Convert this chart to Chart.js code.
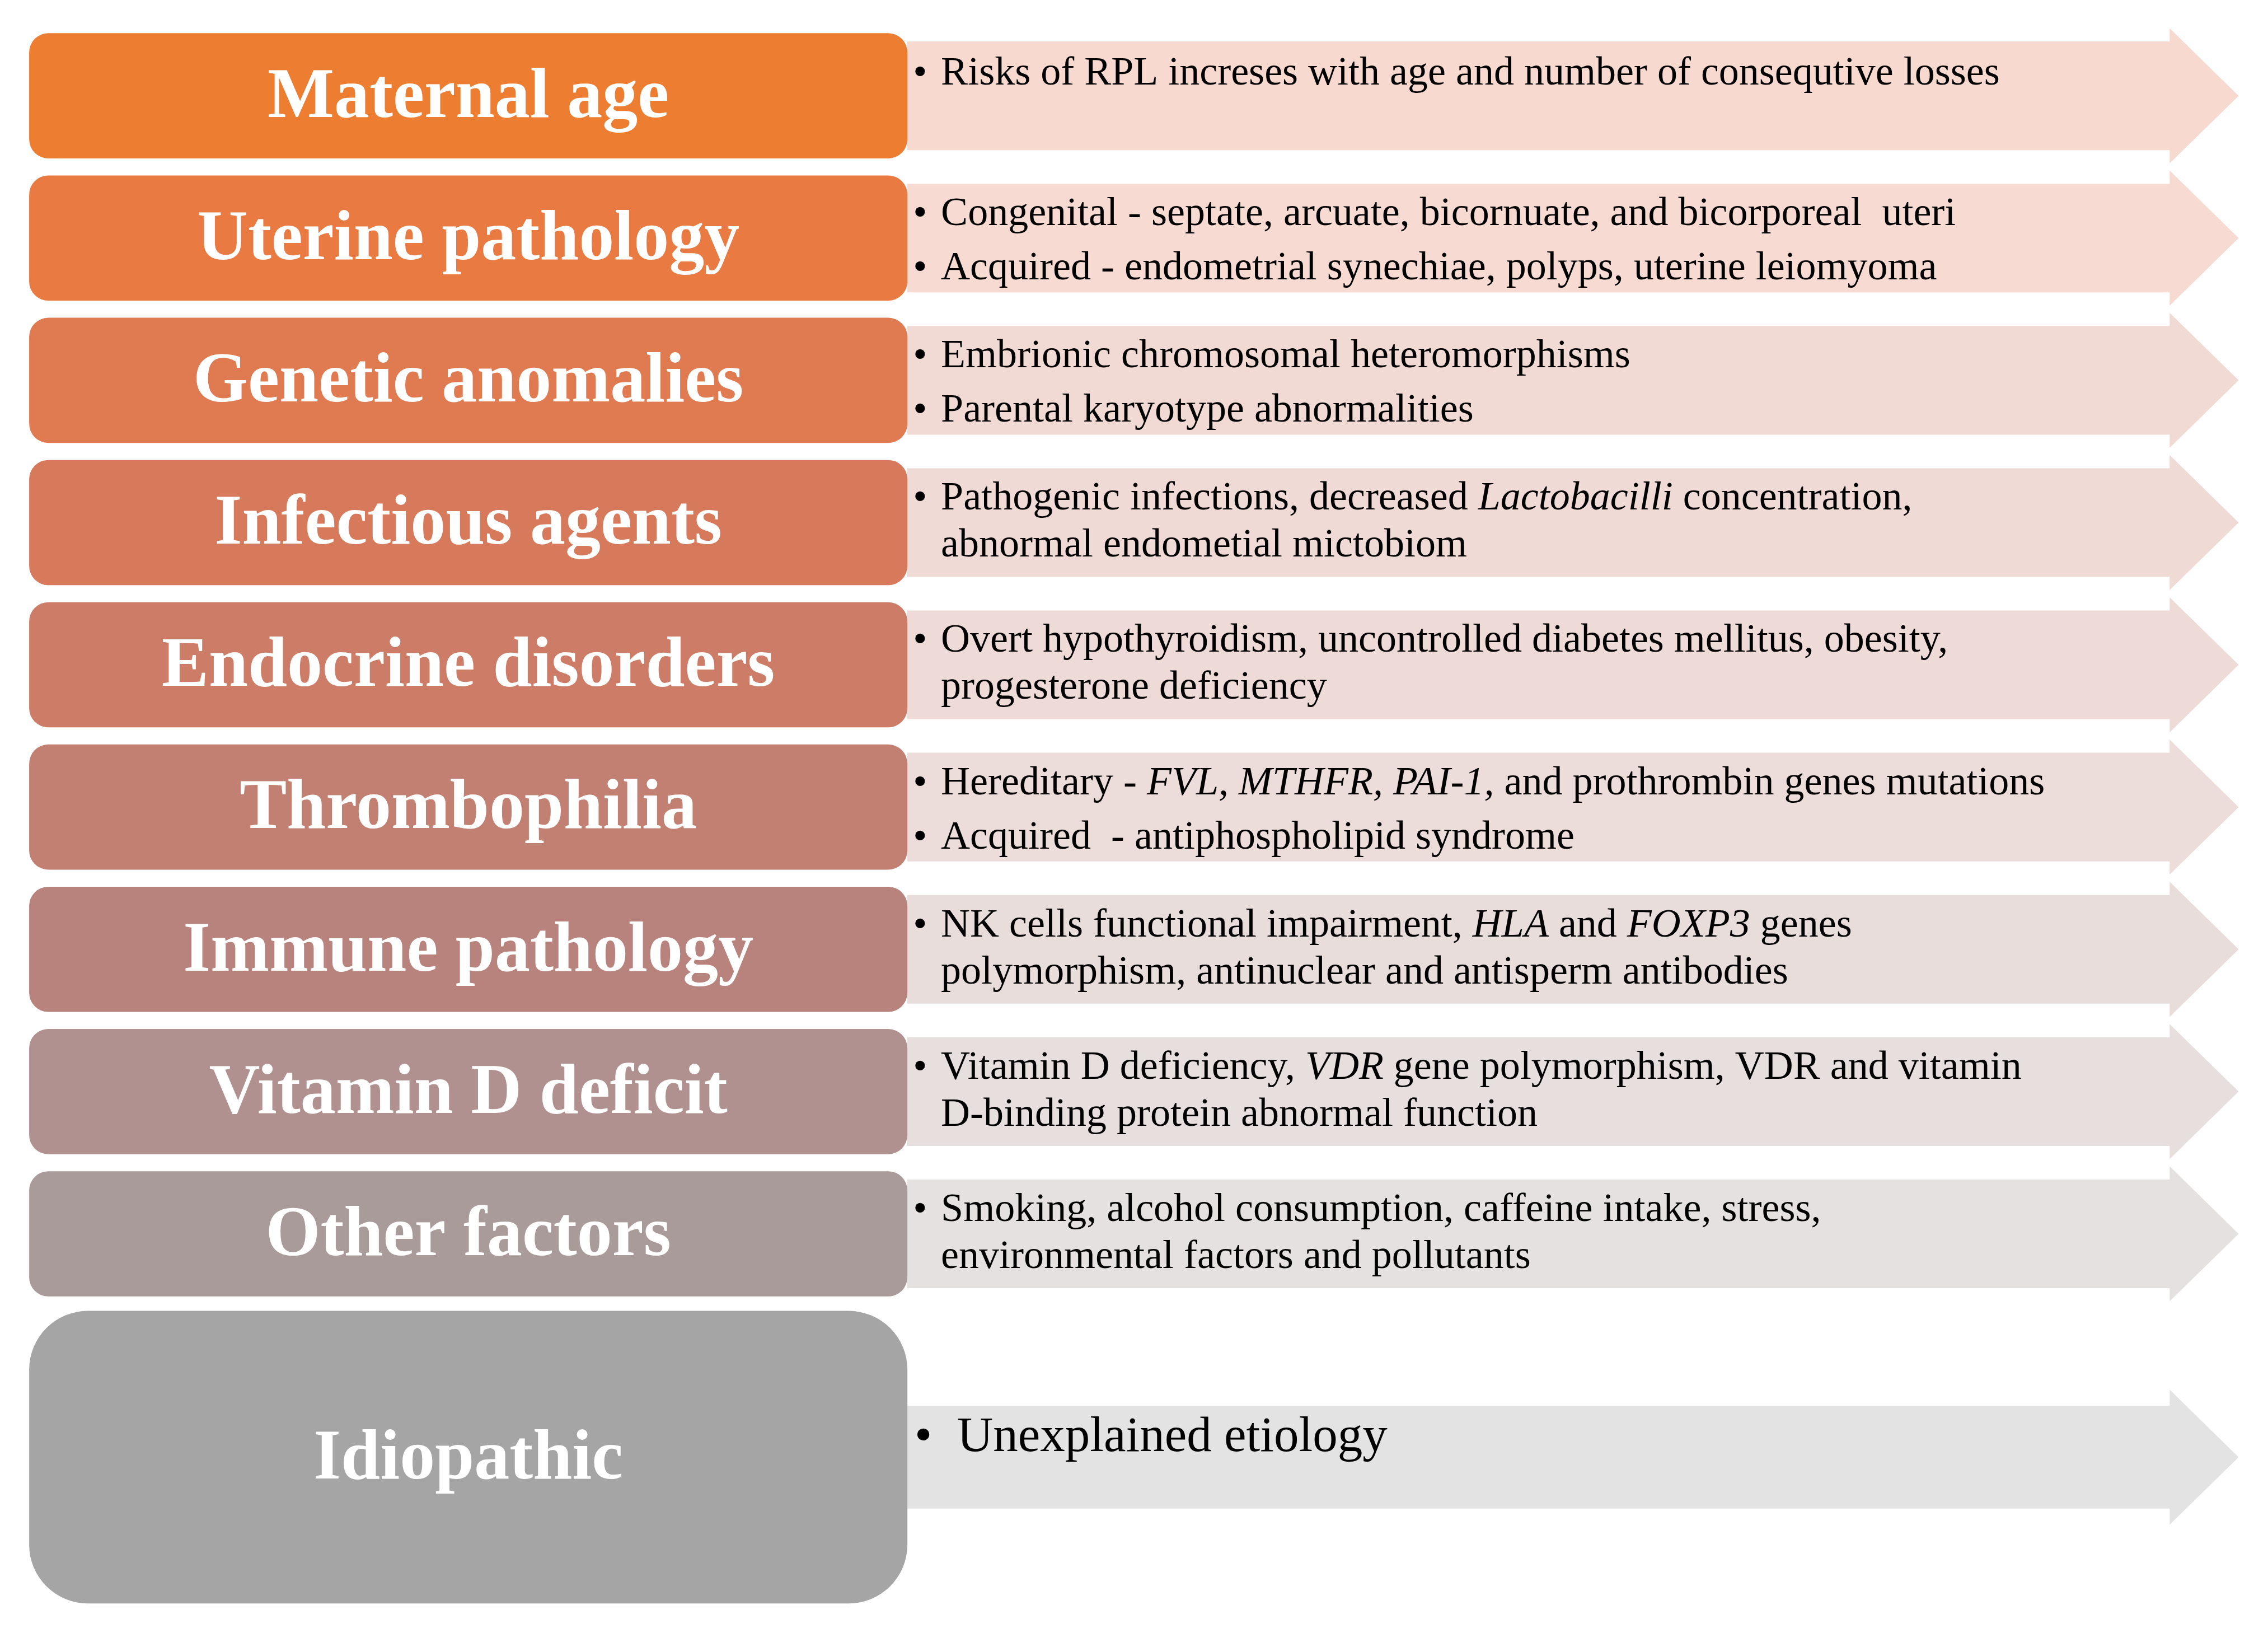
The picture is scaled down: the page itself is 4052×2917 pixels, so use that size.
<!DOCTYPE html>
<html><head><meta charset="utf-8">
<script src="https://cdn.jsdelivr.net/npm/chart.js@4"></script>
<style>html,body{margin:0;padding:0;background:#fff}canvas{display:block}</style>
</head><body>
<canvas id="c" width="4052" height="2917"></canvas>
<script>
const categories = ["Maternal age","Uterine pathology","Genetic anomalies","Infectious agents","Endocrine disorders","Thrombophilia","Immune pathology","Vitamin D deficit","Other factors","Idiopathic"];
const rowIndex = [0,1,2,3,4,5,6,7,8,9.57];
// description lines: "•" starts a bullet; *...* italic
const descriptions = [
  ["• Risks of RPL increses with age and number of consequtive losses"],
  ["• Congenital - septate, arcuate, bicornuate, and bicorporeal  uteri","• Acquired - endometrial synechiae, polyps, uterine leiomyoma"],
  ["• Embrionic chromosomal heteromorphisms","• Parental karyotype abnormalities"],
  ["• Pathogenic infections, decreased *Lactobacilli* concentration,","abnormal endometial mictobiom"],
  ["• Overt hypothyroidism, uncontrolled diabetes mellitus, obesity,","progesterone deficiency"],
  ["• Hereditary - *FVL, MTHFR, PAI-1,* and prothrombin genes mutations","• Acquired  - antiphospholipid syndrome"],
  ["• NK cells functional impairment, *HLA* and *FOXP3* genes","polymorphism, antinuclear and antisperm antibodies"],
  ["• Vitamin D deficiency, *VDR* gene polymorphism, VDR and vitamin","D-binding protein abnormal function"],
  ["• Smoking, alcohol consumption, caffeine intake, stress,","environmental factors and pollutants"],
  ["•  Unexplained etiology"]
];
const boxColors = ["#ED7D31","#E87A42","#E07A51","#D77A5C","#CD7D67","#C28073","#B8837D","#B09190","#AA9B9B","#A5A5A5"];
const arrowColors = ["#F8D9CF","#F7DAD2","#F2DAD4","#F0DAD6","#EEDBD8","#ECDCDA","#E9DDDC","#E7DFDE","#E5E1E1","#E3E3E3"];

const S = 4052/1545;
const boxData = rowIndex.map((r,i)=>({x:[20,618],y:r}));
const arrowPlugin = {
  id:'arrows',
  beforeDatasetsDraw(chart){
    const ctx=chart.ctx, xs=chart.scales.x, ys=chart.scales.y;
    rowIndex.forEach((r,i)=>{
      const cy=ys.getPixelForValue(r);
      const x0=xs.getPixelForValue(618), x1=xs.getPixelForValue(1478), x2=xs.getPixelForValue(1525);
      const bh=(i===9?35:37)*S, hh=46*S;
      ctx.fillStyle=arrowColors[i];
      ctx.beginPath();
      ctx.moveTo(x0,cy-bh);ctx.lineTo(x1,cy-bh);ctx.lineTo(x1,cy-hh);ctx.lineTo(x2,cy);
      ctx.lineTo(x1,cy+hh);ctx.lineTo(x1,cy+bh);ctx.lineTo(x0,cy+bh);ctx.closePath();ctx.fill();
    });
  },
  afterDatasetsDraw(chart){
    const ctx=chart.ctx, xs=chart.scales.x, ys=chart.scales.y;
    ctx.textBaseline='middle';
    rowIndex.forEach((r,i)=>{
      const cy=ys.getPixelForValue(r);
      ctx.fillStyle='#fff';ctx.textAlign='center';
      ctx.font='bold '+Math.round(48*S)+'px "Liberation Serif","Times New Roman",serif';
      ctx.fillText(categories[i],xs.getPixelForValue(319),cy+2*S);
      ctx.textAlign='left';ctx.fillStyle='#000';
      const lines=descriptions[i];
      const fs=(i===9?34:27.5)*S;
      let offs;
      if(lines.length===1) offs=i===9?[-13]:[-15];
      else if(lines[1].startsWith('•')) offs=[-16,21];
      else offs=[-16,16];
      lines.forEach((ln,k)=>{
        const y=cy+offs[k]*S;
        let x=xs.getPixelForValue(i===9?623:622);
        let text=ln;
        if(text.startsWith('•')){
          ctx.font=Math.round(fs)+'px "Liberation Serif",serif';
          ctx.fillText('•',x,y);
          text=text.replace(/^•\s*/,'');
        }
        x=xs.getPixelForValue(i===9?652:641);
        text.split('*').forEach((seg,j)=>{
          ctx.font=(j%2?'italic ':'')+Math.round(fs)+'px "Liberation Serif",serif';
          ctx.fillText(seg,x,y);x+=ctx.measureText(seg).width;
        });
      });
    });
  }
};
new Chart(document.getElementById('c'),{
  type:'bar',
  data:{datasets:[
    {data:boxData.slice(0,9),backgroundColor:boxColors.slice(0,9),borderRadius:13*S,borderSkipped:false,barThickness:85*S},
    {data:boxData.slice(9),backgroundColor:boxColors.slice(9),borderRadius:40*S,borderSkipped:false,barThickness:199*S}
  ]},
  options:{
    indexAxis:'y',responsive:false,animation:false,devicePixelRatio:1,
    layout:{padding:0},
    datasets:{bar:{grouped:false}},
    plugins:{legend:{display:false},tooltip:{enabled:false}},
    scales:{
      x:{type:'linear',min:0,max:1545,display:false,offset:false},
      y:{type:'linear',min:-66/98,max:(1125-66)/98,reverse:true,display:false,offset:false}
    }
  },
  plugins:[arrowPlugin]
});
</script>
</body></html>
